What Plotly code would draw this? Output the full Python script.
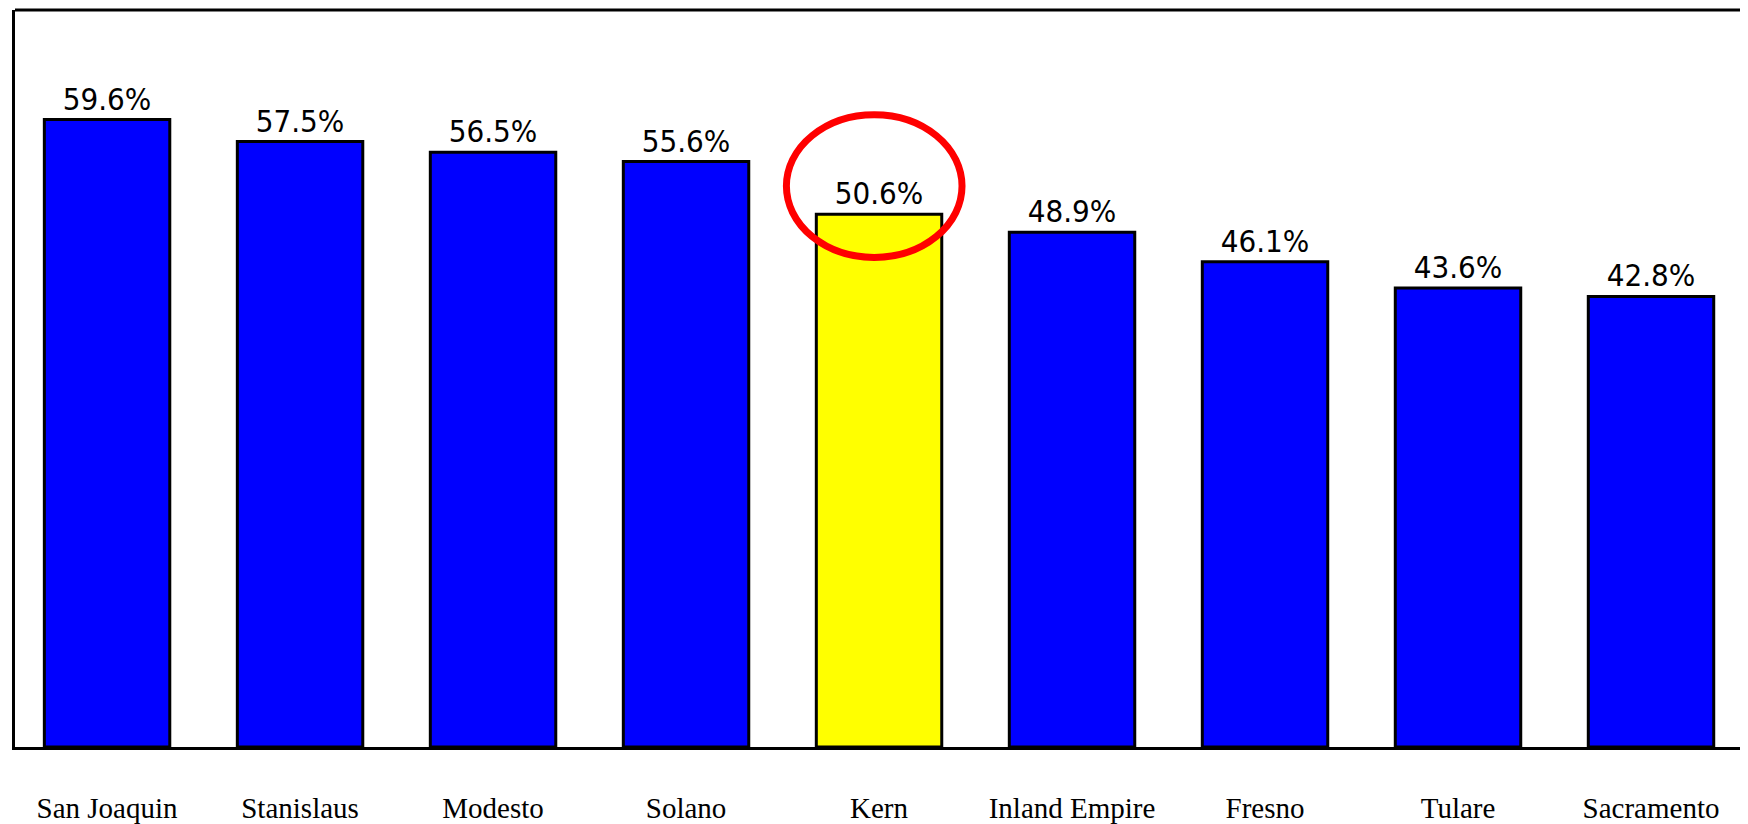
import plotly.graph_objects as go

categories = ["San Joaquin", "Stanislaus", "Modesto", "Solano", "Kern",
              "Inland Empire", "Fresno", "Tulare", "Sacramento"]
values = [59.6, 57.5, 56.5, 55.6, 50.6, 48.9, 46.1, 43.6, 42.8]
highlight = "Kern"

colors = ["#FFFF00" if c == highlight else "#0000FF" for c in categories]
labels = [f"{v:.1f}%" for v in values]

fig = go.Figure(go.Bar(
    x=list(range(len(categories))),
    y=values,
    width=0.65,
    marker=dict(color=colors, line=dict(color="black", width=3)),
    text=labels,
    textposition="outside",
    constraintext="none",
    cliponaxis=False,
    textfont=dict(family="DejaVu Sans Condensed, Liberation Sans, Arial, sans-serif",
                  size=31, color="black"),
))

hi = categories.index(highlight)
hv = values[hi]
fig.add_shape(type="circle", xref="x", yref="y",
              x0=hi - 0.48, x1=hi + 0.43, y0=hv - 4.1, y1=hv + 9.45,
              line=dict(color="#FF0000", width=7))
# top frame line
fig.add_shape(type="line", xref="paper", yref="paper", x0=0, x1=1, y0=1, y1=1,
              line=dict(color="black", width=3))

fig.update_layout(
    width=1748, height=824,
    margin=dict(l=7, r=0, t=2, b=85),
    paper_bgcolor="white", plot_bgcolor="white",
    showlegend=False,
)
fig.update_xaxes(
    range=[-0.477, 8.544],
    tickmode="array", tickvals=list(range(len(categories))), ticktext=categories,
    showline=True, linecolor="black", linewidth=3,
    showgrid=False, zeroline=False,
    ticks="", ticklabelstandoff=33,
    tickfont=dict(family="Liberation Serif, Times New Roman, serif", size=29, color="black"),
)
fig.update_yaxes(
    range=[0, 70], showline=True, linecolor="black", linewidth=3,
    showgrid=False, zeroline=False, showticklabels=False, ticks="",
)

fig.write_html("out.html")
